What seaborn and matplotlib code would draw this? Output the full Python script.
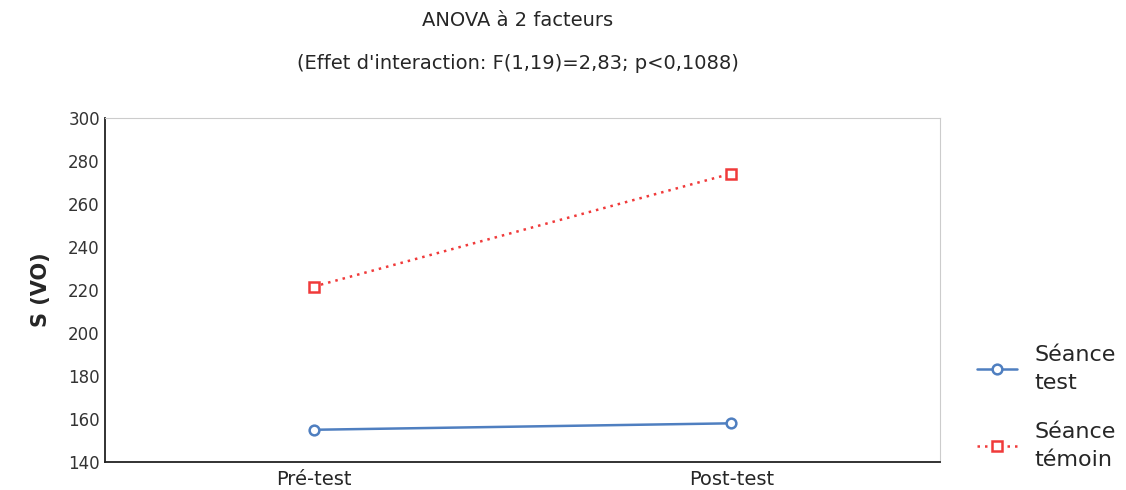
import matplotlib
matplotlib.use("Agg")
import matplotlib.pyplot as plt
import seaborn as sns

# ------------------------- DATA ------------------------- #
phases = ["Pré-test", "Post-test"]
seance_test = [155, 158]
seance_temoin = [221.5, 274]
series_names = ["Séance\ntest", "Séance\ntémoin"]

# ------------------------- PLOT ------------------------- #
sns.set_style("white")
plt.rcParams["font.family"] = ["DejaVu Sans"]

fig, ax = plt.subplots(figsize=(11.26, 4.9), dpi=100)
fig.subplots_adjust(left=0.093, right=0.835, top=0.76, bottom=0.057)

sns.lineplot(x=phases, y=seance_test, color="#4f7fc0", marker="o",
             markersize=7, markerfacecolor="white", markeredgecolor="#4f7fc0",
             markeredgewidth=1.8, linewidth=1.8, label=series_names[0], ax=ax)
sns.lineplot(x=phases, y=seance_temoin, color="#f03a3a", marker="s",
             markersize=7, markerfacecolor="white", markeredgecolor="#f03a3a",
             markeredgewidth=1.8, linewidth=1.8, linestyle=(0, (1, 2)),
             label=series_names[1], ax=ax)

ax.set_xlim(-0.5, 1.5)
ax.set_ylim(140, 300)
ax.set_yticks(range(140, 301, 20))
ax.set_xlabel("")
ax.set_ylabel("S (VO)", fontsize=15, fontweight="bold", labelpad=12)
ax.tick_params(axis="y", direction="in", length=4, labelsize=12, colors="#333333")
ax.tick_params(axis="x", length=0, labelsize=14, pad=6)

for side in ["left", "bottom"]:
    ax.spines[side].set_color("#222222")
    ax.spines[side].set_linewidth(1.3)
for side in ["top", "right"]:
    ax.spines[side].set_color("#cccccc")
    ax.spines[side].set_linewidth(0.8)

fig.suptitle("ANOVA à 2 facteurs\n(Effet d'interaction: F(1,19)=2,83; p<0,1088)",
             fontsize=14, y=0.978, x=0.46, linespacing=2.6)

leg = ax.legend(loc="lower left", bbox_to_anchor=(1.02, -0.08), frameon=False,
                fontsize=16, handlelength=1.8, labelspacing=1.3)
for t in leg.get_texts():
    t.set_linespacing(1.5)

fig.savefig("out.png", dpi=100)
